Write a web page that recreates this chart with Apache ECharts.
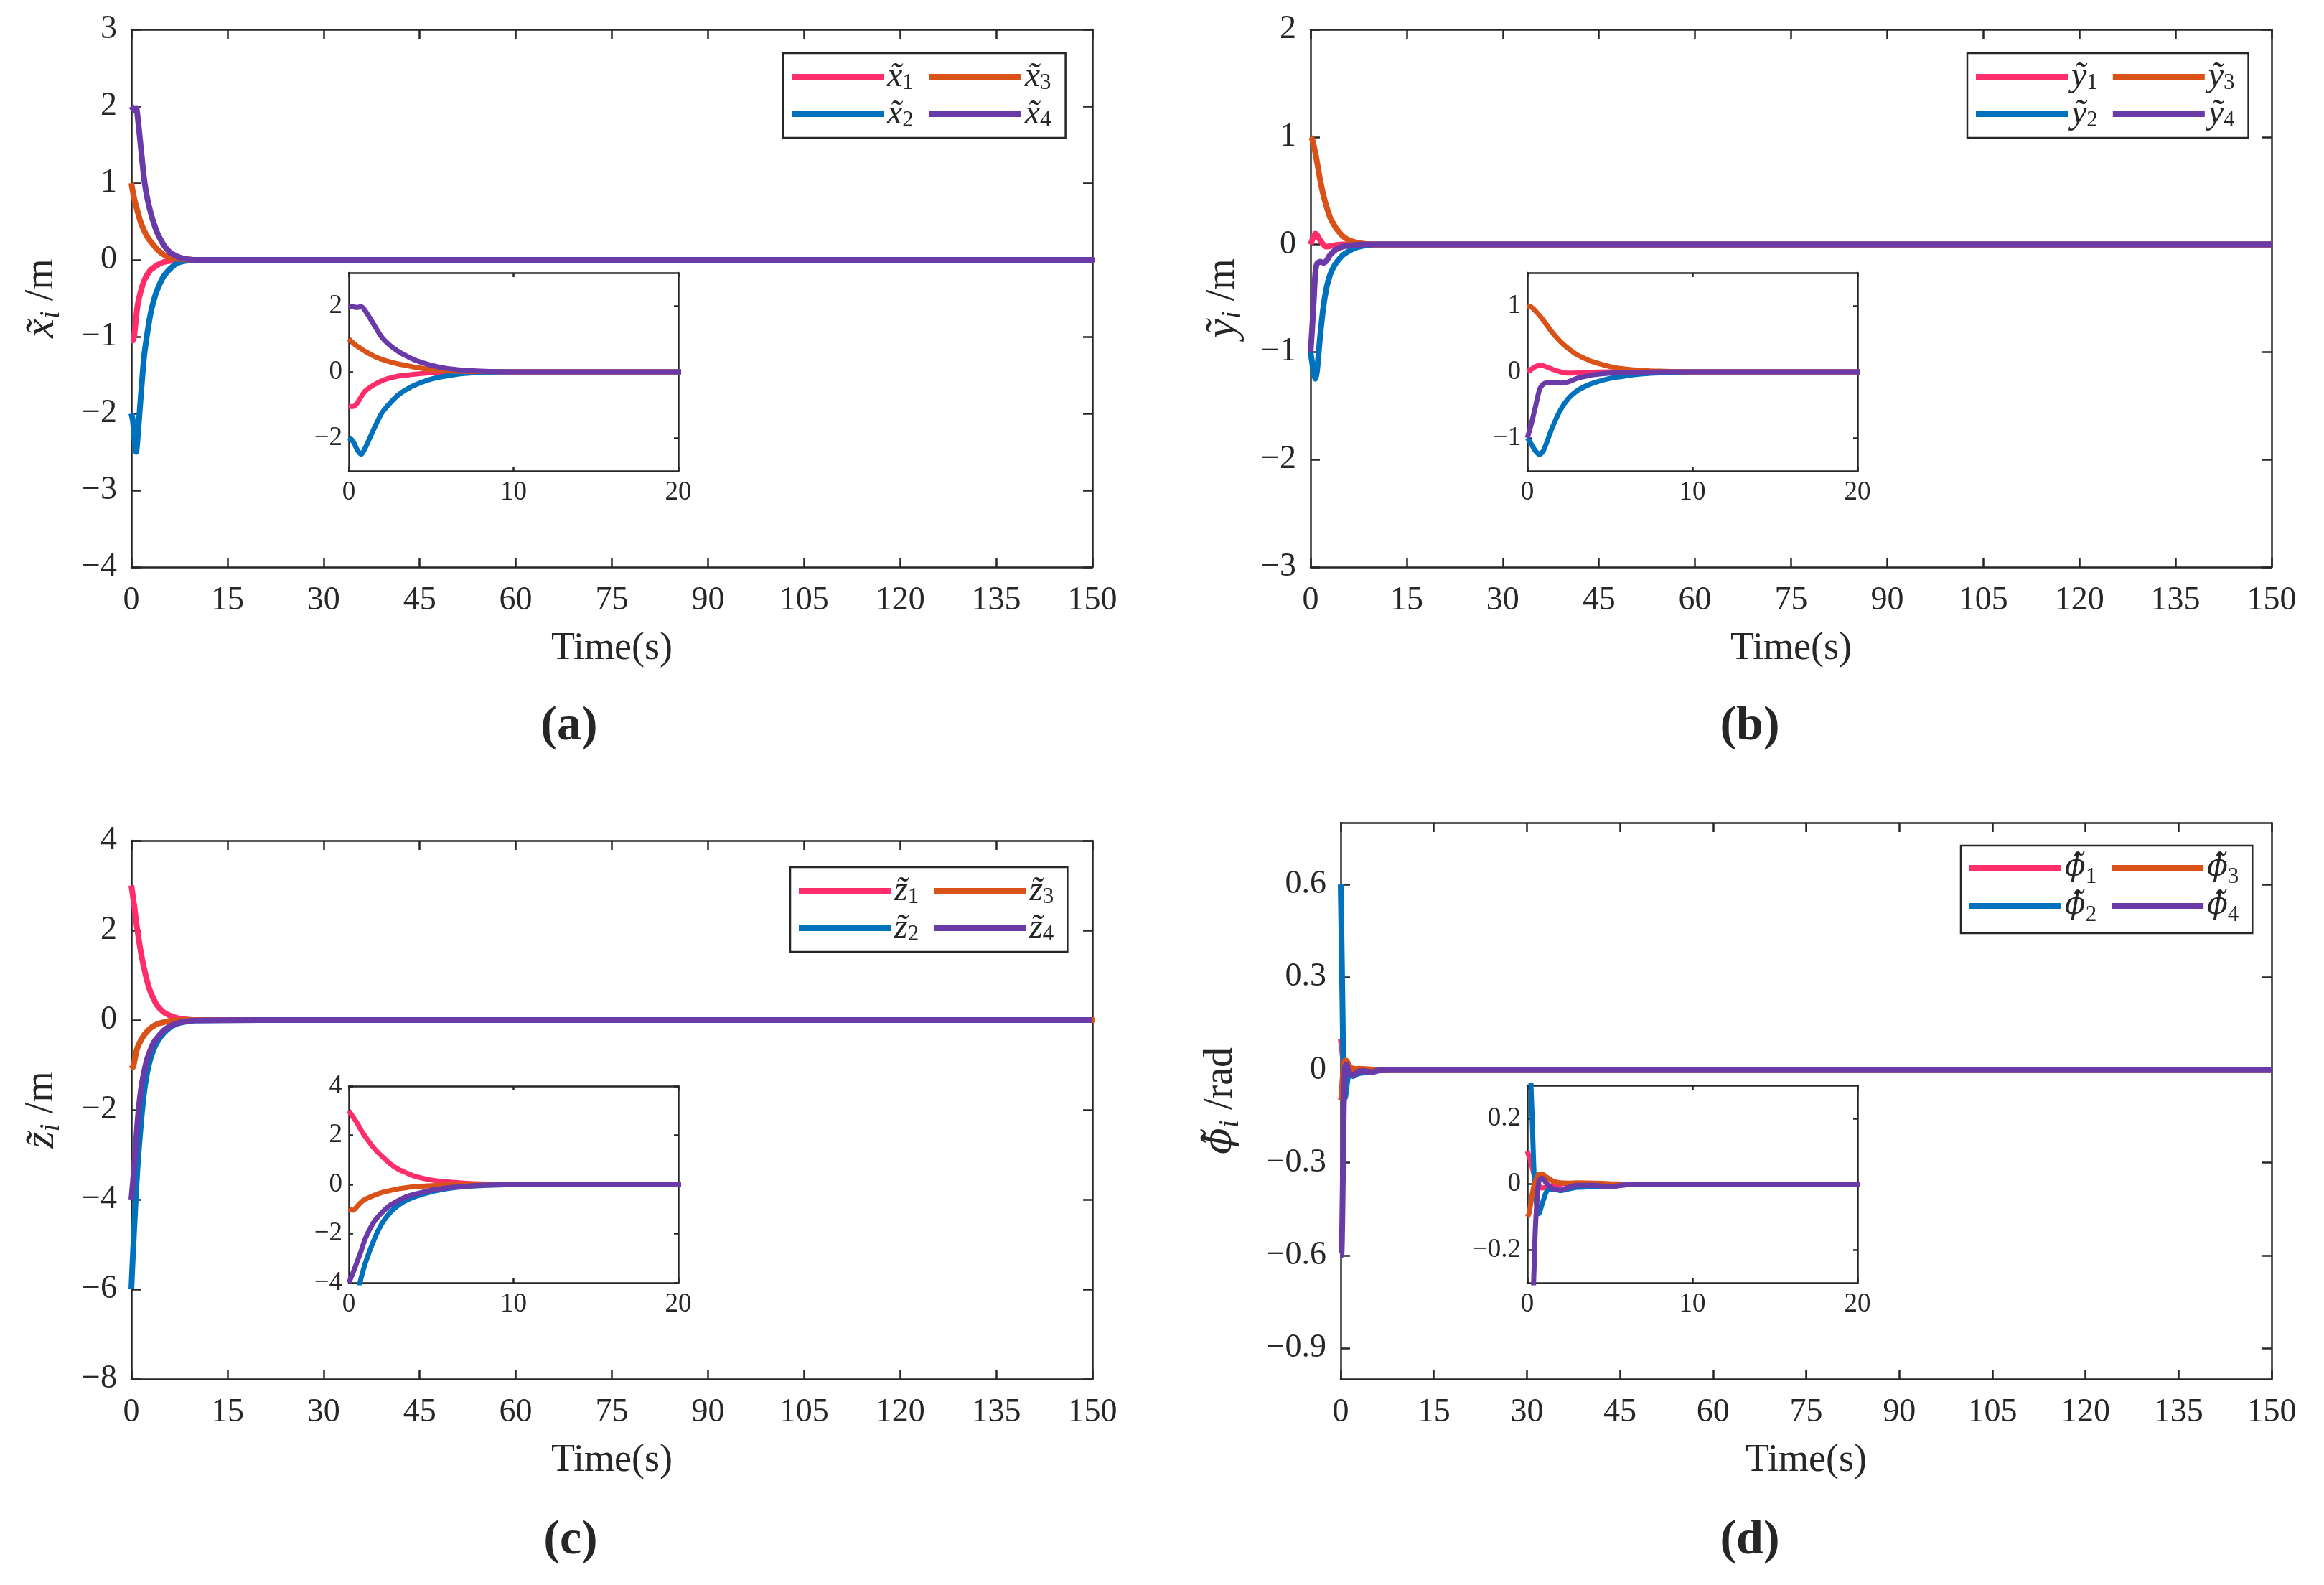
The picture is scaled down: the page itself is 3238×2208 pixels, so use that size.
<!DOCTYPE html>
<html>
<head>
<meta charset="utf-8">
<script src="https://cdn.jsdelivr.net/npm/echarts@6/dist/echarts.min.js"></script>
<style>
html, body { margin: 0; padding: 0; background: #fff; }
#main { width: 3238px; height: 2208px; }
</style>
</head>
<body>
<div id="main"></div>
<script>
// time samples (s)
var tXYZ = [0, 0.25, 0.5, 0.75, 1, 1.5, 2, 2.5, 3, 3.5, 4, 5, 6, 7, 8, 10, 20, 150];
var tPhi = [0, 0.1, 0.2, 0.3, 0.4, 0.5, 0.7, 0.9, 1.2, 1.6, 2, 2.5, 3, 4, 5, 6, 8, 10, 20, 150];

// (a) x error
var xErr1 = [-1.05, -1.05, -0.95, -0.75, -0.58, -0.4, -0.27, -0.19, -0.13, -0.1, -0.07, -0.03, -0.015, -0.005, 0, 0, 0, 0];
var xErr2 = [-2.0, -2.1, -2.35, -2.5, -2.3, -1.75, -1.25, -0.95, -0.7, -0.53, -0.4, -0.22, -0.12, -0.05, -0.02, 0, 0, 0];
var xErr3 = [1.0, 0.88, 0.78, 0.7, 0.62, 0.48, 0.38, 0.3, 0.24, 0.19, 0.14, 0.07, 0.03, 0.015, 0.01, 0, 0, 0];
var xErr4 = [2.0, 1.97, 1.95, 1.98, 1.85, 1.45, 1.05, 0.8, 0.62, 0.48, 0.36, 0.2, 0.1, 0.05, 0.02, 0, 0, 0];

// (b) y error
var yErr1 = [0, 0.04, 0.08, 0.1, 0.09, 0.04, 0.0, -0.02, -0.015, -0.01, -0.005, 0, 0, 0, 0, 0, 0, 0];
var yErr2 = [-1.0, -1.1, -1.2, -1.25, -1.18, -0.85, -0.58, -0.4, -0.29, -0.22, -0.17, -0.1, -0.06, -0.03, -0.015, 0, 0, 0];
var yErr3 = [1.0, 0.98, 0.92, 0.85, 0.77, 0.6, 0.46, 0.35, 0.26, 0.2, 0.15, 0.08, 0.04, 0.02, 0.01, 0, 0, 0];
var yErr4 = [-1.0, -0.78, -0.52, -0.26, -0.18, -0.16, -0.17, -0.15, -0.1, -0.07, -0.045, -0.02, -0.01, -0.005, 0, 0, 0, 0];

// (c) z error
var zErr1 = [3.0, 2.75, 2.5, 2.2, 1.95, 1.5, 1.15, 0.85, 0.62, 0.47, 0.33, 0.18, 0.1, 0.05, 0.02, 0, 0, 0];
var zErr2 = [-6.0, -5.2, -4.5, -3.8, -3.2, -2.3, -1.6, -1.15, -0.85, -0.65, -0.5, -0.3, -0.17, -0.09, -0.05, -0.01, 0, 0];
var zErr3 = [-1.0, -1.05, -0.9, -0.72, -0.6, -0.45, -0.33, -0.25, -0.18, -0.13, -0.09, -0.05, -0.02, -0.01, 0, 0, 0, 0];
var zErr4 = [-4.0, -3.6, -3.15, -2.7, -2.2, -1.55, -1.15, -0.85, -0.66, -0.5, -0.4, -0.24, -0.14, -0.08, -0.04, -0.01, 0, 0];

// (d) yaw error
var phiErr1 = [0.1, 0.085, 0.07, 0.05, 0.03, 0.015, -0.005, -0.012, -0.008, -0.003, 0, 0.002, 0, 0, 0, 0, 0, 0, 0, 0];
var phiErr2 = [0.6, 0.47, 0.33, 0.19, 0.04, -0.04, -0.09, -0.06, -0.02, -0.015, -0.02, -0.015, -0.01, -0.008, -0.005, -0.002, 0, 0, 0, 0];
var phiErr3 = [-0.1, -0.09, -0.06, -0.03, -0.005, 0.01, 0.03, 0.03, 0.02, 0.008, 0.004, 0.003, 0.004, 0.003, 0.001, 0, 0, 0, 0, 0];
var phiErr4 = [-0.6, -0.6, -0.55, -0.42, -0.27, -0.12, 0.01, 0.018, 0.0, -0.015, -0.018, -0.01, -0.004, -0.004, -0.008, -0.002, 0, 0, 0, 0];

// tick labels
var yTicksPhi = [-0.9, -0.6, -0.3, 0, 0.3, 0.6];
var insetTicksX = [-2, 0, 2];
var insetTicksY = [-1, 0, 1];
var insetTicksPhi = [-0.2, 0, 0.2];

var FONT = 'Liberation Serif';
var GREEK = 'DejaVu Serif';
var INK = '#262626';
var COLORS = ['#FF2E6A', '#0072BD', '#D95319', '#6A3BA8'];

var panels = [
    {sym: 'x\u0303', unit: 'm', t: tXYZ, vals: [xErr1, xErr2, xErr3, xErr4],
     main: {left: 183, top: 41, width: 1339, height: 749}, yMin: -4, yMax: 3, yInt: 1, nameGap: 92,
     inset: {left: 486, top: 380, width: 459, height: 276}, iMin: -3, iMax: 3, iTicks: insetTicksX,
     legend: {left: 1091, top: 74}, pad: 18, label: '(a)', lx: 793, ly: 1012},
    {sym: 'y\u0303', unit: 'm', t: tXYZ, vals: [yErr1, yErr2, yErr3, yErr4],
     main: {left: 1826, top: 41, width: 1339, height: 749}, yMin: -3, yMax: 2, yInt: 1, nameGap: 89,
     inset: {left: 2128, top: 380, width: 460, height: 276}, iMin: -1.5, iMax: 1.5, iTicks: insetTicksY,
     legend: {left: 2741, top: 74}, pad: 17, label: '(b)', lx: 2438, ly: 1012},
    {sym: 'z\u0303', unit: 'm', t: tXYZ, vals: [zErr1, zErr2, zErr3, zErr4],
     main: {left: 183, top: 1171, width: 1339, height: 750}, yMin: -8, yMax: 4, yInt: 2, nameGap: 92,
     inset: {left: 486, top: 1513, width: 459, height: 274}, iMin: -4, iMax: 4, iInt: 2,
     legend: {left: 1101, top: 1208}, pad: 17, label: '(c)', lx: 795, ly: 2146},
    {sym: '\u03d5\u0303', unit: 'rad', t: tPhi, vals: [phiErr1, phiErr2, phiErr3, phiErr4],
     main: {left: 1868, top: 1146, width: 1297, height: 775}, yMin: -1, yMax: 0.8, yTicks: yTicksPhi, nameGap: 134,
     inset: {left: 2128, top: 1512, width: 460, height: 275}, iMin: -0.3, iMax: 0.3, iTicks: insetTicksPhi,
     legend: {left: 2732, top: 1178}, pad: 17, label: '(d)', lx: 2438, ly: 2146}
];

function fmt(v) {
    return String(v).replace('-', '\u2212');
}

// rich token for the variable symbol: Greek letters use a font with proper mark placement
function symToken(sym) {
    return sym.charAt(0) === '\u03d5' ? 'g' : 'v';
}

var grids = [], xAxes = [], yAxes = [], series = [], legends = [], graphics = [];

// builds a boxed pair of axes (ticks on all four sides) for one grid
function addAxes(gridIndex, p) {
    var xi = xAxes.length, yi = yAxes.length;
    ['bottom', 'top'].forEach(function (pos) {
        var ax = {
            type: 'value', gridIndex: gridIndex, position: pos,
            min: 0, max: p.xMax, interval: p.xInt,
            axisLine: {show: true, onZero: false, lineStyle: {color: INK, width: 2.5}},
            axisTick: {show: true, inside: true, length: p.tick, lineStyle: {color: INK, width: 2.5}},
            splitLine: {show: false},
            axisLabel: {show: pos === 'bottom', color: INK, fontFamily: FONT, fontSize: p.fs, margin: p.xMargin, formatter: fmt}
        };
        if (pos === 'bottom' && p.xName) {
            ax.name = p.xName;
            ax.nameLocation = 'middle';
            ax.nameGap = 87;
            ax.nameTextStyle = {color: INK, fontFamily: FONT, fontSize: 54};
        }
        xAxes.push(ax);
    });
    ['left', 'right'].forEach(function (pos) {
        var ax = {
            type: 'value', gridIndex: gridIndex, position: pos,
            min: p.yMin, max: p.yMax,
            axisLine: {show: true, onZero: false, lineStyle: {color: INK, width: 2.5}},
            axisTick: {show: true, inside: true, length: p.tick, lineStyle: {color: INK, width: 2.5}},
            splitLine: {show: false},
            axisLabel: {show: pos === 'left', color: INK, fontFamily: FONT, fontSize: p.fs, margin: p.yMargin, formatter: fmt}
        };
        if (p.yTicks) {
            ax.axisTick.customValues = p.yTicks;
            ax.axisLabel.customValues = p.yTicks;
        } else {
            ax.interval = p.yInt;
        }
        if (pos === 'left' && p.yName) {
            ax.name = p.yName;
            ax.nameLocation = 'middle';
            ax.nameRotate = 90;
            ax.nameGap = p.nameGap;
            ax.nameTextStyle = {
                color: INK, fontFamily: FONT,
                rich: {
                    v: {fontFamily: FONT, fontStyle: 'italic', fontSize: 60, lineHeight: 66, color: INK},
                    g: {fontFamily: GREEK, fontStyle: 'italic', fontSize: 54, lineHeight: 66, color: INK},
                    s: {fontFamily: FONT, fontStyle: 'italic', fontSize: 40, verticalAlign: 'bottom', color: INK},
                    n: {fontFamily: FONT, fontSize: 56, color: INK}
                }
            };
        }
        yAxes.push(ax);
    });
    return [xi, yi];
}

function addSeries(names, t, vals, xi, yi, width) {
    vals.forEach(function (v, i) {
        series.push({
            name: names[i], type: 'line',
            xAxisIndex: xi, yAxisIndex: yi,
            data: t.map(function (tt, k) { return [tt, v[k]]; }),
            showSymbol: false, symbol: 'none',
            smooth: 0.25, clip: true,
            lineStyle: {color: COLORS[i], width: width},
            itemStyle: {color: COLORS[i]}
        });
    });
}

panels.forEach(function (p) {
    var names = [1, 2, 3, 4].map(function (n) { return p.sym + n; });
    var tok = symToken(p.sym);

    // main axes
    var g = grids.length;
    grids.push(p.main);
    var m = addAxes(g, {
        xMax: 150, xInt: 15, yMin: p.yMin, yMax: p.yMax, yInt: p.yInt, yTicks: p.yTicks,
        fs: 46, tick: 13, xMargin: 24, yMargin: 20,
        xName: 'Time(s)', yName: '{' + tok + '|' + p.sym + '}{s|i}{n| /' + p.unit + '}', nameGap: p.nameGap
    });
    addSeries(names, p.t, p.vals, m[0], m[1], 8);

    // zoomed inset 0-20 s
    var gi = grids.length;
    grids.push(p.inset);
    var s = addAxes(gi, {
        xMax: 20, xInt: 10, yMin: p.iMin, yMax: p.iMax, yInt: p.iInt, yTicks: p.iTicks,
        fs: 37, tick: 6, xMargin: 12, yMargin: 9
    });
    addSeries(names, p.t, p.vals, s[0], s[1], 7);

    var greek = tok === 'g';
    legends.push({
        data: [names[0], names[2], names[1], names[3]],
        left: p.legend.left, top: p.legend.top,
        orient: 'horizontal', width: 400,
        itemWidth: 128, itemHeight: 8, itemGap: 4, icon: 'rect',
        padding: greek ? [10, 2, 10, 12] : [9, 2, 9, 12],
        borderColor: INK, borderWidth: 2.5, backgroundColor: '#fff',
        formatter: function (name) {
            return '{' + tok + '|' + name.slice(0, -1) + '}{s|' + name.slice(-1) + '}';
        },
        textStyle: {
            color: INK,
            rich: {
                v: {fontFamily: FONT, fontStyle: 'italic', fontSize: 48, color: INK},
                g: {fontFamily: GREEK, fontStyle: 'italic', fontSize: 42, lineHeight: 56, color: INK},
                s: {fontFamily: FONT, fontSize: 31, lineHeight: 30, verticalAlign: 'bottom',
                    padding: [0, p.pad, 0, 0], color: INK}
            }
        }
    });

    graphics.push({
        type: 'text', x: p.lx, y: p.ly,
        style: {
            text: p.label, font: 'bold 68px "Liberation Serif"', fill: INK,
            textAlign: 'center', textVerticalAlign: 'middle', align: 'center', verticalAlign: 'middle'
        }
    });
});

var chart = echarts.init(document.getElementById('main'));
chart.setOption({
    animation: false,
    backgroundColor: '#fff',
    grid: grids,
    xAxis: xAxes,
    yAxis: yAxes,
    legend: legends,
    graphic: graphics,
    series: series
});
</script>
</body>
</html>
